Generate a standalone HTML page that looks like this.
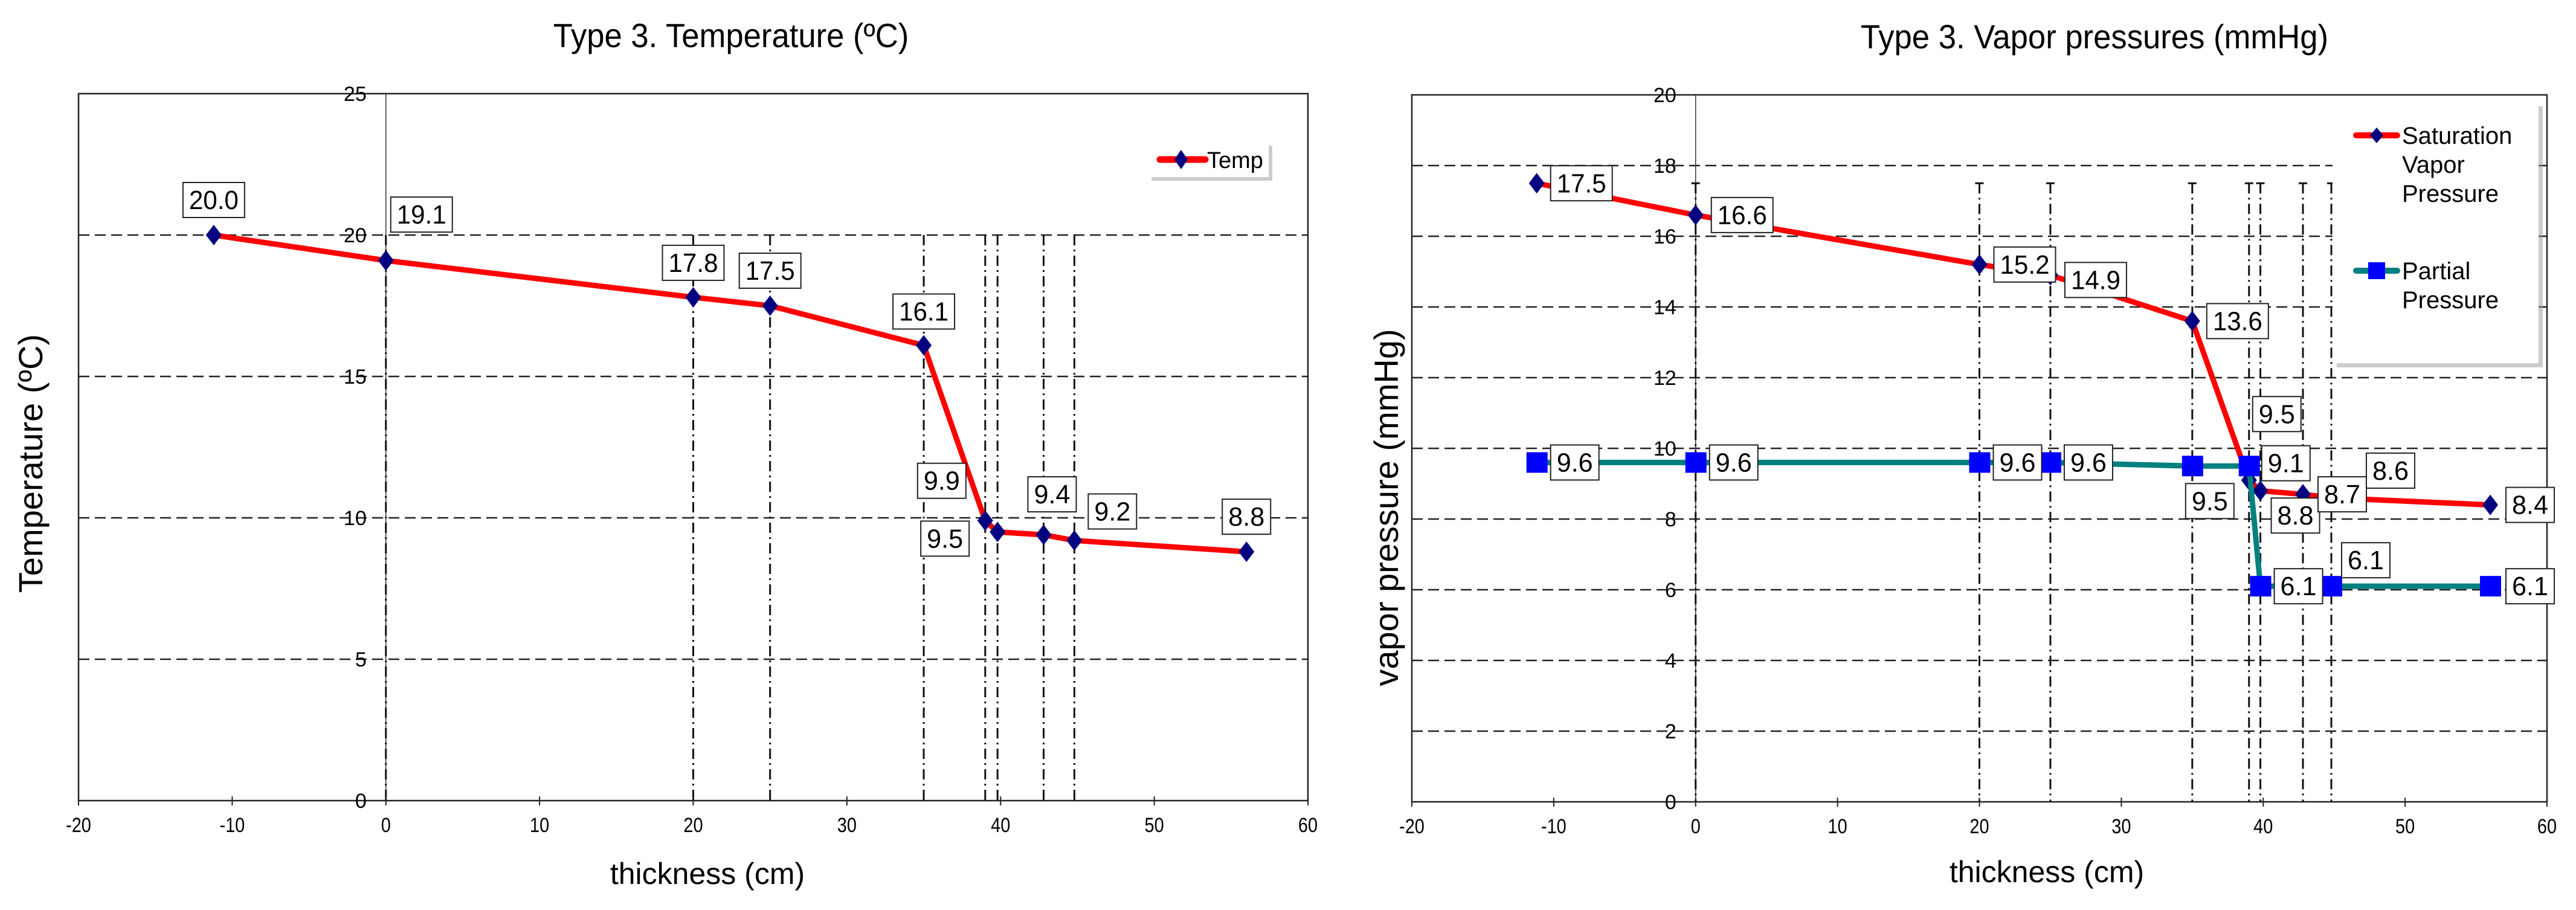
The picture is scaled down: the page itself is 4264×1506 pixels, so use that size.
<!DOCTYPE html>
<html><head><meta charset="utf-8"><style>
html,body{margin:0;padding:0;background:#fff;}
svg{display:block;}
text{font-family:"Liberation Sans",sans-serif;fill:#000;}
</style></head><body>
<svg id="root" width="4264" height="1506" viewBox="0 0 4264 1506" xmlns="http://www.w3.org/2000/svg">
<g id="left"></g>
<g id="right"></g>
</svg>
<script>
// ---- data ----
const thickness = [-11.2, 0, 20, 25, 35, 39, 39.8, 42.8, 44.8, 56];
const layerBoundaries = [0, 20, 25, 35, 39, 39.8, 42.8, 44.8];
const tempValues = [20.0, 19.1, 17.8, 17.5, 16.1, 9.9, 9.5, 9.4, 9.2, 8.8];
const satValues = [17.5, 16.6, 15.2, 14.9, 13.6, 9.1, 8.8, 8.7, 8.6, 8.4];
const partialValues = [9.6, 9.6, 9.6, 9.6, 9.5, 9.5, 6.1, 6.1, 6.1, 6.1];
const partialLabels = ["9.6","9.6","9.6","9.6","9.5","9.5","6.1","","6.1","6.1"];
const xTicks = [-20, -10, 0, 10, 20, 30, 40, 50, 60];
const tempTicks = [0, 5, 10, 15, 20, 25];
const vpTicks = [0, 2, 4, 6, 8, 10, 12, 14, 16, 18, 20];

// label offsets (style)
const tempLabelOff = [[0,-58],[59,-76],[0,-57],[0,-58],[0,-56],[-72,-66],[-87,11],[14,-67],[63,-48],[0,-58]];
const satLabelOff = [[74,0],[77,0],[75,0],[75,8],[75,0],[61,-28],[58,41],[65,0],[98,-45],[66,0]];
const partLabelOff = [[63,0],[63,0],[63,0],[63,0],[29,58],[46,-86],[63,0],[0,0],[57,-43],[66,0]];

const NS = "http://www.w3.org/2000/svg";
function mk(parent, tag, attrs){const e=document.createElementNS(NS,tag);for(const k in attrs)e.setAttribute(k,attrs[k]);parent.appendChild(e);return e;}

function drawChart(g, cfg){
  const X = v => cfg.x0 + (v - cfg.xmin)/(cfg.xmax-cfg.xmin)*(cfg.x1-cfg.x0);
  const Y = v => cfg.y0 - (v - cfg.ymin)/(cfg.ymax-cfg.ymin)*(cfg.y0-cfg.y1);
  const t = mk(g,'text',{x:cfg.titleX,y:cfg.titleY,'font-size':56,'text-anchor':'middle',transform:`translate(${cfg.titleX},0) scale(0.94,1) translate(${-cfg.titleX},0)`});
  t.textContent = cfg.title;
  
  
  const b = mk(g,'rect',{x:cfg.x0,y:cfg.y1,width:cfg.x1-cfg.x0,height:cfg.y0-cfg.y1,fill:'#fff',stroke:'#222','stroke-width':2.5});
  
  
  cfg.yTicks.forEach(v=>{
    if(v===cfg.ymin||v===cfg.ymax) return;
    const l = mk(g,'line',{x1:cfg.x0,x2:cfg.x1,y1:Y(v),y2:Y(v),stroke:'#222','stroke-width':2.5,'stroke-dasharray':'18 9'});
    
    
  });
  const ax = mk(g,'line',{x1:X(0),x2:X(0),y1:cfg.y1,y2:cfg.y0,stroke:'#333','stroke-width':1.5});
  
  
  layerBoundaries.forEach(v=>{
    const l = mk(g,'line',{x1:X(v),x2:X(v),y1:Y(cfg.boundTop),y2:cfg.y0,stroke:'#111','stroke-width':3,'stroke-dasharray':'17 7 3 7'});
    
    
    if(cfg.cap){
      const c = mk(g,'line',{x1:X(v)-7,x2:X(v)+7,y1:Y(cfg.boundTop),y2:Y(cfg.boundTop),stroke:'#111','stroke-width':3});
      
      
    }
  });
  cfg.yTicks.forEach(v=>{
    const tx = mk(g,'text',{x:X(0)-32,y:Y(v)+12,'font-size':34,'text-anchor':'end'});
    tx.textContent = v;
    
    
  });
  xTicks.forEach(v=>{
    const tk = mk(g,'line',{x1:X(v),x2:X(v),y1:cfg.y0-7,y2:cfg.y0+8,stroke:'#222','stroke-width':2});
    
    
    const tx = mk(g,'text',{x:X(v),y:cfg.y0+52,'font-size':34,'text-anchor':'middle',transform:`translate(${X(v)},0) scale(0.85,1) translate(${-X(v)},0)`});
    tx.textContent = v;
    
    
  });
  const xt = mk(g,'text',{x:cfg.xtX,y:cfg.xtY,'font-size':50,'text-anchor':'middle'});
  xt.textContent='thickness (cm)';
  
  
  const yt = mk(g,'text',{x:0,y:0,'font-size':56,'text-anchor':'middle',transform:`translate(${cfg.ytX},${cfg.ytY}) rotate(-90)`});
  yt.textContent=cfg.yTitle;
  
  
  return {X,Y};
}

function drawSeries(g, X, Y, vals, color, marker, name){
  const pts = thickness.map((x,i)=>X(x)+','+Y(vals[i])).join(' ');
  const pl = mk(g,'polyline',{points:pts,fill:'none',stroke:color,'stroke-width':9,'stroke-linejoin':'round'});
  
  
  thickness.forEach((x,i)=>{
    const cx=X(x), cy=Y(vals[i]);
    let m;
    if(marker==='diamond'){
      m = mk(g,'polygon',{points:`${cx},${cy-17} ${cx+13},${cy} ${cx},${cy+17} ${cx-13},${cy}`,fill:'#000080'});
    } else {
      m = mk(g,'rect',{x:cx-17,y:cy-17,width:35,height:34,fill:'#0000ff'});
    }
    
    
  });
}

function drawLabels(g, X, Y, vals, texts, offs, name){
  thickness.forEach((x,i)=>{
    const s = texts[i]; if(!s) return;
    const cx = X(x)+offs[i][0], cy = Y(vals[i])+offs[i][1];
    const w = s.length>3 ? 102 : 80, h = 58;
    const r = mk(g,'rect',{x:cx-w/2,y:cy-h/2,width:w,height:h,fill:'#fff',stroke:'#222','stroke-width':2});
    
    
    const t = mk(g,'text',{x:cx,y:cy+15,'font-size':44,'text-anchor':'middle',textLength:w-20,lengthAdjust:'spacingAndGlyphs'});
    t.textContent = s;
    
    
  });
}

// ---- left chart ----
const gL = document.getElementById('left');
const L = drawChart(gL,{x0:130,x1:2165,y0:1325,y1:155,xmin:-20,xmax:60,ymin:0,ymax:25,yTicks:tempTicks,
  title:'Type 3. Temperature (ºC)',titleX:1210,titleY:78,xtX:1171,xtY:1463,ytX:70,ytY:767,yTitle:'Temperature (ºC)',boundTop:20,cap:false});
drawSeries(gL,L.X,L.Y,tempValues,'#ff0000','diamond','temp');
drawLabels(gL,L.X,L.Y,tempValues,tempValues.map(v=>v.toFixed(1)),tempLabelOff,'temp');
const lg = mk(gL,'g',{});


mk(lg,'rect',{x:1906,y:241,width:200,height:58,fill:'#999',opacity:0.5});
mk(lg,'rect',{x:1900,y:235,width:200,height:58,fill:'#fff'});
mk(lg,'line',{x1:1920,x2:1995,y1:264,y2:264,stroke:'#ff0000','stroke-width':11,'stroke-linecap':'round'});
mk(lg,'polygon',{points:'1955,248 1966,264 1955,280 1944,264',fill:'#000080'});
const lt = mk(lg,'text',{x:1998,y:278,'font-size':38});
lt.textContent='Temp';



// ---- right chart ----
const gR = document.getElementById('right');
const R = drawChart(gR,{x0:2337,x1:4216,y0:1327,y1:157,xmin:-20,xmax:60,ymin:0,ymax:20,yTicks:vpTicks,
  title:'Type 3. Vapor pressures (mmHg)',titleX:3467,titleY:80,xtX:3388,xtY:1460,ytX:2314,ytY:840,yTitle:'vapor pressure (mmHg)',boundTop:17.5,cap:true});
const lg2 = mk(gR,'g',{});


mk(lg2,'rect',{x:3868,y:176,width:341,height:432,fill:'#999',opacity:0.5});
mk(lg2,'rect',{x:3861,y:169,width:341,height:432,fill:'#fff'});
mk(lg2,'line',{x1:3900,x2:3968,y1:224,y2:224,stroke:'#ff0000','stroke-width':10,'stroke-linecap':'round'});
mk(lg2,'polygon',{points:'3934,211 3945,224 3934,237 3923,224',fill:'#000080'});
mk(lg2,'line',{x1:3900,x2:3968,y1:448,y2:448,stroke:'#008080','stroke-width':10,'stroke-linecap':'round'});
mk(lg2,'rect',{x:3920,y:434,width:28,height:28,fill:'#0000ff'});
[['Saturation',238],['Vapor',286],['Pressure',334]].forEach(([s,y])=>{
  const t=mk(lg2,'text',{x:3976,y:y,'font-size':40});t.textContent=s;
  
  
});
[['Partial',462],['Pressure',510]].forEach(([s,y])=>{
  const t=mk(lg2,'text',{x:3976,y:y,'font-size':40});t.textContent=s;
  
  
});
drawSeries(gR,R.X,R.Y,satValues,'#ff0000','diamond','saturation');
drawSeries(gR,R.X,R.Y,partialValues,'#008080','square','partial');
drawLabels(gR,R.X,R.Y,satValues,satValues.map(v=>v.toFixed(1)),satLabelOff,'saturation');
drawLabels(gR,R.X,R.Y,partialValues,partialLabels,partLabelOff,'partial');
</script>
</body></html>
